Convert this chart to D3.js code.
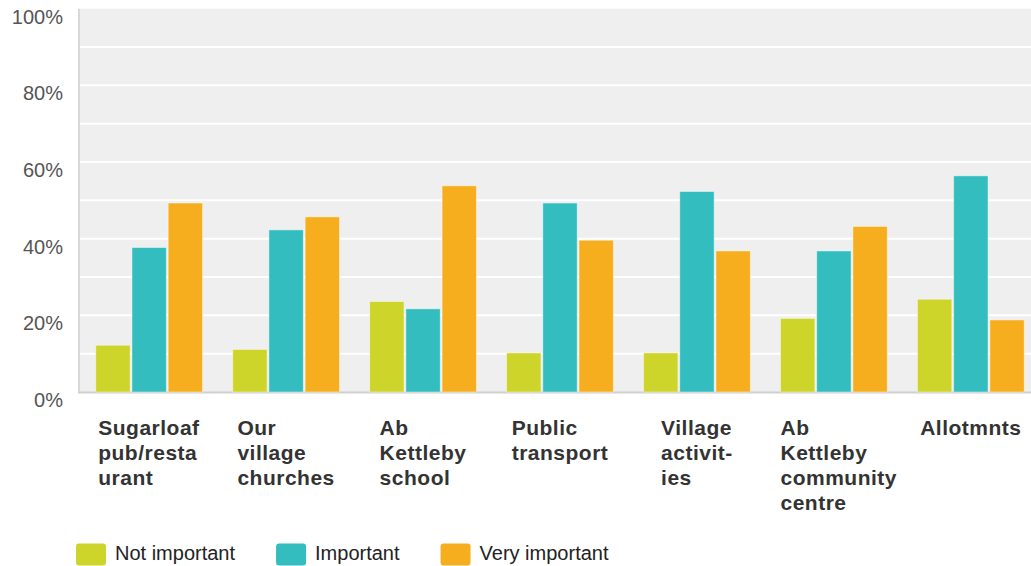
<!DOCTYPE html>
<html>
<head>
<meta charset="utf-8">
<script src="https://cdn.jsdelivr.net/npm/d3@7"></script>
<style>
  body { margin: 0; background: #fff; }
  text { font-family: "Liberation Sans", Arial, sans-serif; }
</style>
</head>
<body>
<div id="vis"></div>
<script>
var categories = ["Sugarloaf pub/restaurant", "Our village churches", "Ab Kettleby school",
  "Public transport", "Village activities", "Ab Kettleby community centre", "Allotmnts"];
// label lines as wrapped in the original
var catLines = [["Sugarloaf", "pub/resta", "urant"], ["Our", "village", "churches"],
  ["Ab", "Kettleby", "school"], ["Public", "transport"], ["Village", "activit-", "ies"],
  ["Ab", "Kettleby", "community", "centre"], ["Allotmnts"]];
var series = ["Not important", "Important", "Very important"];
var colors = ["#cdd42a", "#33bdbe", "#f6ae1f"];
var notImportant  = [12.2, 11.1, 23.6, 10.2, 10.2, 19.2, 24.2];
var important     = [37.7, 42.3, 21.7, 49.3, 52.3, 36.8, 56.4];
var veryImportant = [49.3, 45.7, 53.8, 39.6, 36.8, 43.2, 18.8];
var yTicks = [0, 20, 40, 60, 80, 100];

var values = [notImportant, important, veryImportant];

var W = 1031, H = 566;
var svg = d3.select('#vis').append('svg').attr('width', W).attr('height', H);

var y = d3.scaleLinear().domain([0, 100]).range([392, 8.7]);
var x0 = d3.scaleBand().domain(categories).range([80, 1040]).paddingInner(0.22).paddingOuter(0.115);
var x1 = d3.scaleBand().domain(series).range([0, x0.bandwidth()]).paddingInner(0.05);

// plot background
svg.append('rect')
  .attr('x', 80).attr('y', y(100))
  .attr('width', W - 80).attr('height', y(0) - y(100))
  .attr('fill', '#efefef');

// gridlines every 10%
svg.selectAll('line.grid')
  .data(d3.range(10, 100, 10)).enter().append('line')
  .attr('class', 'grid')
  .attr('x1', 80).attr('x2', W)
  .attr('y1', function(d) { return y(d); })
  .attr('y2', function(d) { return y(d); })
  .attr('stroke', '#fff').attr('stroke-width', 2);

// axis lines
svg.append('line').attr('x1', 79).attr('x2', 79).attr('y1', y(100)).attr('y2', y(0) + 1)
  .attr('stroke', '#d8d8d8').attr('stroke-width', 2);
svg.append('line').attr('x1', 78).attr('x2', W).attr('y1', y(0) + 0.5).attr('y2', y(0) + 0.5)
  .attr('stroke', '#d0d0d0').attr('stroke-width', 2);

// y tick labels
svg.selectAll('text.ytick')
  .data(yTicks).enter().append('text')
  .attr('class', 'ytick')
  .attr('x', 63)
  .attr('y', function(d) { return y(d) + 15; })
  .attr('text-anchor', 'end')
  .attr('font-size', 20)
  .attr('fill', '#555')
  .text(function(d) { return d + '%'; });

// bars
var groups = svg.selectAll('g.cat')
  .data(categories).enter().append('g')
  .attr('class', 'cat')
  .attr('transform', function(d) { return 'translate(' + x0(d) + ',0)'; });

groups.selectAll('rect')
  .data(function(d, i) { return series.map(function(s, j) { return { s: s, j: j, v: values[j][i] }; }); })
  .enter().append('rect')
  .attr('x', function(d) { return x1(d.s); })
  .attr('y', function(d) { return y(d.v); })
  .attr('width', x1.bandwidth())
  .attr('height', function(d) { return y(0) - y(d.v); })
  .attr('fill', function(d) { return colors[d.j]; })
  .attr('stroke', '#fff').attr('stroke-opacity', 0.45).attr('stroke-width', 1);

// category labels: wrapped block, left aligned, centred under the group
groups.each(function(d, i) {
  var t = d3.select(this).append('text')
    .attr('font-size', 21).attr('font-weight', 'bold').attr('fill', '#333')
    .attr('letter-spacing', 0.5);
  t.selectAll('tspan').data(catLines[i]).enter().append('tspan')
    .attr('x', 0)
    .attr('y', function(l, k) { return 435 + k * 25; })
    .text(function(l) { return l; });
  var bw = Math.min(t.node().getBBox().width, x0.bandwidth());
  t.selectAll('tspan').attr('x', (x0.bandwidth() - bw) / 2);
});

// legend
var lx = 76;
series.forEach(function(s, j) {
  svg.append('rect')
    .attr('x', lx).attr('y', 543.5)
    .attr('width', 30).attr('height', 22).attr('rx', 3)
    .attr('fill', colors[j]);
  var t = svg.append('text')
    .attr('x', lx + 39).attr('y', 560)
    .attr('font-size', 20).attr('fill', '#222')
    .text(s);
  lx = lx + 39 + t.node().getComputedTextLength() + 41;
});
</script>
</body>
</html>
